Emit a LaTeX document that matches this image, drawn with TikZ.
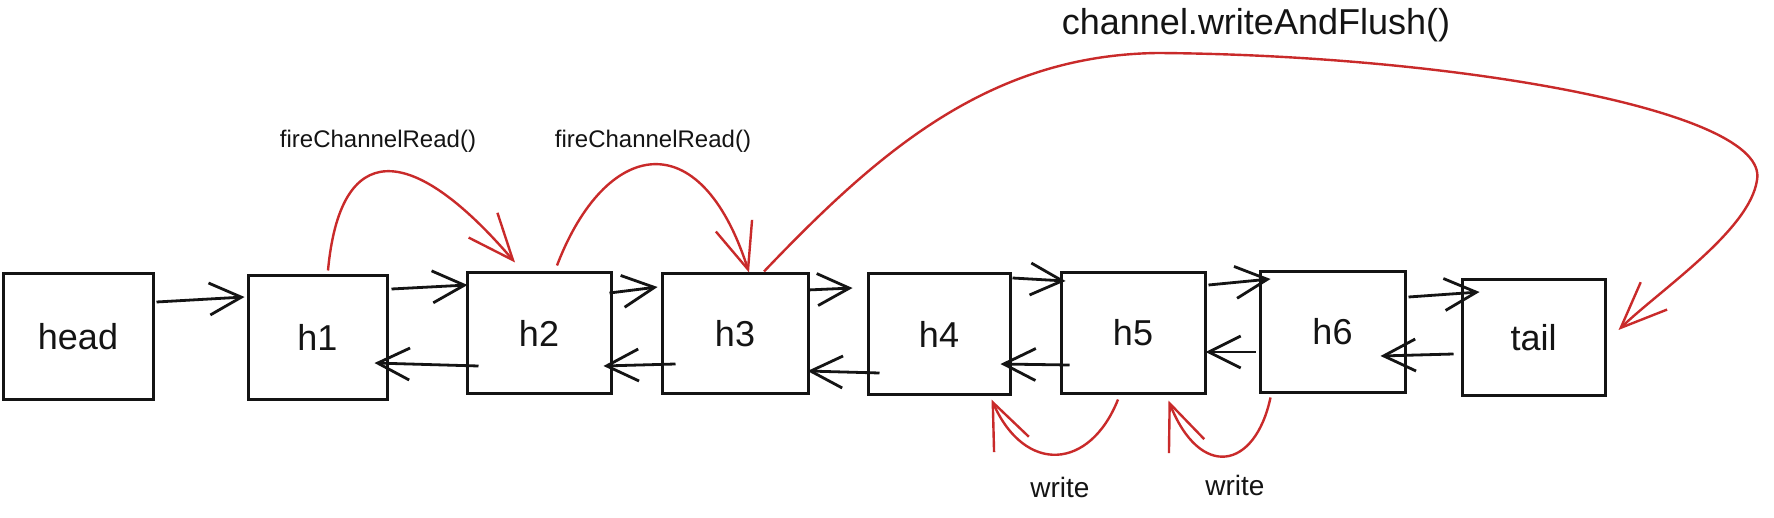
\documentclass[tikz,border=0pt]{standalone}
\usepackage{fontspec}
\setmainfont{Liberation Sans}
\usetikzlibrary{arrows.meta,calc}
\definecolor{xred}{RGB}{201,42,42}
\definecolor{ink}{RGB}{20,20,20}
\tikzset{
  box/.style={draw=ink, line width=3pt, inner sep=0pt, font=\fontsize{36}{40}\selectfont, text=ink},
  blk/.style={draw=ink, line width=2.8pt, -{Straight Barb[length=32pt,width=32pt]}},
  rd/.style={draw=xred, line width=2.4pt, -{Straight Barb[length=46pt,width=38pt]}},
  lblsmall/.style={font=\fontsize{24}{28}\selectfont, text=ink, inner sep=0pt},
  lblbig/.style={font=\fontsize{36}{40}\selectfont, text=ink, inner sep=0pt},
  lblmid/.style={font=\fontsize{28}{32}\selectfont, text=ink, inner sep=0pt}
}
\begin{document}
\begin{tikzpicture}[x=1pt,y=-1pt]
\useasboundingbox (0,0) rectangle (1774,518);
\fill[white] (0,0) rectangle (1774,518);
% boxes
\node[box, minimum width=150pt, minimum height=125pt] (head) at (78,336.5) {head};
\node[box, minimum width=139pt, minimum height=123pt] (h1) at (317.5,337.5) {h1};
\node[box, minimum width=144pt, minimum height=120pt] (h2) at (539,333) {h2};
\node[box, minimum width=146pt, minimum height=119pt] (h3) at (735,333.5) {h3};
\node[box, minimum width=142pt, minimum height=120pt] (h4) at (939,334) {h4};
\node[box, minimum width=144pt, minimum height=120pt] (h5) at (1133,333) {h5};
\node[box, minimum width=145pt, minimum height=120pt] (h6) at (1332.5,332) {h6};
\node[box, minimum width=143pt, minimum height=115pt] (tail) at (1533.5,337.5) {tail};
% labels
\node[lblsmall] (f1) at (378,141) {fireChannelRead()};
\node[lblsmall] (f2) at (653,141) {fireChannelRead()};
\node[lblbig] (cw) at (1256,25) {channel.writeAndFlush()};
\node[lblmid] (w1) at (1060,487) {write};
\node[lblmid] (w2) at (1235,485) {write};
% forward arrows
\draw[blk] ($(head.east)+(2,-34.5)$) -- ($(h1.west)+(-2,-40.5)$);
\draw[blk] ($(h1.east)+(3,-48.5)$) -- ($(h2.west)+(2,-48)$);
\draw[blk] ($(h2.east)+(-3,-40)$) -- ($(h3.west)+(-3,-46.5)$);
\draw[blk] ($(h3.east)+(-2,-43.5)$) -- ($(h4.west)+(-14,-46)$);
\draw[blk] ($(h4.east)+(1,-56)$) -- ($(h5.west)+(6,-52)$);
\draw[blk] ($(h5.east)+(2,-48)$) -- ($(h6.west)+(12,-53)$);
\draw[blk] ($(h6.east)+(2,-35)$) -- ($(tail.west)+(19,-45.5)$);
% backward arrows
\draw[blk] ($(h2.west)+(13,33)$) -- ($(h1.east)+(-14,25.5)$);
\draw[blk] ($(h3.west)+(15,30.5)$) -- ($(h2.east)+(-9,33)$);
\draw[blk] ($(h4.west)+(13,39)$) -- ($(h3.east)+(-2,37.5)$);
\draw[blk] ($(h5.west)+(10,32)$) -- ($(h4.east)+(-11,30)$);
\draw[blk] ($(h6.west)+(-3,20)$) -- ($(h5.east)+(-1,19)$);
\draw[blk] ($(tail.west)+(-7,16.5)$) -- ($(h6.east)+(-26,24)$);
% red curves
\draw[rd] ($(h1.north)+(10.5,-4)$) .. controls (340,140) and (410,140) .. ($(h2.north)+(-24,-9)$);
\draw[rd] ($(h2.north)+(18,-6)$) .. controls (605,140) and (700,120) .. ($(h3.north)+(14,0)$);
\draw[rd] ($(h3.north)+(29,-1)$) .. controls (880,150) and (990,55) .. (1158,53)
   .. controls (1450,55) and (1770,110) .. (1757,180)
   .. controls (1750,230) and (1660,290) .. ($(tail.east)+(12,-7.5)$);
\draw[rd] ($(h5.south)+(-15,5)$) .. controls (1090,470) and (1025,475) .. ($(h4.south east)+(-20,4)$);
\draw[rd] ($(h6.south west)+(12,4)$) .. controls (1255,470) and (1200,480) .. ($(h5.south east)+(-38,6)$);
\end{tikzpicture}
\end{document}
